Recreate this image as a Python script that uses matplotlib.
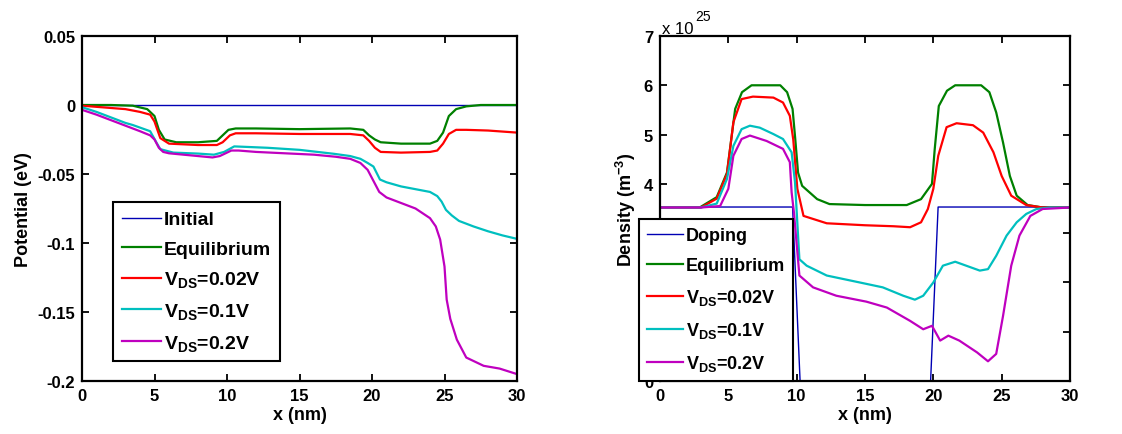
import numpy as np
import matplotlib
matplotlib.use('Agg')
import matplotlib.pyplot as plt

plt.rcParams['font.family'] = ['Liberation Sans', 'DejaVu Sans']
plt.rcParams['font.weight'] = 'bold'
plt.rcParams['mathtext.fontset'] = 'custom'
plt.rcParams['mathtext.rm'] = 'Liberation Sans:bold'
plt.rcParams['mathtext.bf'] = 'Liberation Sans:bold'
plt.rcParams['mathtext.it'] = 'Liberation Sans:bold'
plt.rcParams['axes.unicode_minus'] = False

# Couleurs style MATLAB
c_blue = '#0000b4'
c_green = '#008000'
c_red = '#ff0000'
c_cyan = '#00bfbf'
c_mag = '#bf00bf'

noms_pot = ['Initial', 'Equilibrium', r'V$_{\mathbf{DS}}$=0.02V', r'V$_{\mathbf{DS}}$=0.1V', r'V$_{\mathbf{DS}}$=0.2V']
noms_dens = ['Doping', 'Equilibrium', r'V$_{\mathbf{DS}}$=0.02V', r'V$_{\mathbf{DS}}$=0.1V', r'V$_{\mathbf{DS}}$=0.2V']

# ---- Potentiel (eV) ----
x_init = [0, 30]
v_init = [0, 0]

x_eq = [0, 2, 3.5, 4.5, 5.0, 5.3, 5.7, 6.5, 8, 9.3, 9.7, 10.1, 10.6, 12, 15, 18.5, 19.4, 19.8,
        20.2, 20.6, 22, 24, 24.5, 24.9, 25.3, 25.8, 26.5, 27.5, 30]
v_eq = [0, 0, -0.0005, -0.003, -0.008, -0.018, -0.025, -0.027, -0.027, -0.026, -0.022, -0.018,
        -0.017, -0.017, -0.0175, -0.017, -0.018, -0.022, -0.025, -0.027, -0.028, -0.028, -0.026,
        -0.02, -0.008, -0.003, -0.001, 0, 0]

x_02 = [0, 1.2, 3, 4.0, 4.7, 5.0, 5.4, 6, 8, 9.3, 9.7, 10.2, 10.6, 12, 15, 18.5, 19.4, 19.8,
        20.2, 20.6, 22, 24, 24.5, 24.9, 25.3, 25.8, 26.5, 28, 30]
v_02 = [-0.0005, -0.0015, -0.003, -0.005, -0.007, -0.012, -0.024, -0.028, -0.029, -0.029, -0.027,
        -0.022, -0.0205, -0.0205, -0.021, -0.021, -0.022, -0.026, -0.031, -0.034, -0.0345, -0.034,
        -0.033, -0.028, -0.021, -0.018, -0.018, -0.0185, -0.020]

x_1 = [0, 1, 2, 3, 3.5, 4.7, 5.15, 5.4, 6.3, 8, 9.1, 9.8, 10.5, 12.8, 15, 17.4, 18.5, 19.2, 19.7,
       20.1, 20.55, 21, 22, 23, 24, 24.5, 24.8, 25.1, 25.5, 26, 27, 28, 29, 30]
v_1 = [-0.0016, -0.005, -0.009, -0.013, -0.0145, -0.019, -0.0275, -0.032, -0.0345, -0.0352, -0.036,
       -0.034, -0.030, -0.031, -0.0325, -0.0354, -0.037, -0.039, -0.042, -0.0446, -0.054, -0.056,
       -0.059, -0.061, -0.063, -0.066, -0.070, -0.076, -0.080, -0.084, -0.088, -0.0915, -0.0945, -0.097]

x_2 = [0, 1, 2, 3, 4, 4.7, 5.0, 5.3, 5.6, 6, 7, 8, 9, 9.5, 9.9, 10.3, 10.8, 12, 14, 16, 17.5,
       18.5, 19.2, 19.7, 20.1, 20.5, 21, 22, 23, 24, 24.4, 24.7, 25.0, 25.15, 25.4, 25.85, 26.5,
       27.7, 28.8, 30]
v_2 = [-0.0035, -0.007, -0.011, -0.015, -0.019, -0.022, -0.025, -0.031, -0.034, -0.035, -0.036,
       -0.037, -0.038, -0.037, -0.035, -0.033, -0.033, -0.034, -0.035, -0.036, -0.0375, -0.039,
       -0.042, -0.047, -0.055, -0.063, -0.067, -0.071, -0.075, -0.082, -0.088, -0.0975, -0.117,
       -0.141, -0.155, -0.170, -0.183, -0.189, -0.191, -0.195]

# ---- Densite (x 1e25 m^-3) ----
x_dop = [0, 9.7, 10.25, 19.8, 20.35, 30]
n_dop = [3.53, 3.53, 0, 0, 3.53, 3.53]

x_neq = [0, 2.9, 4.15, 4.9, 5.5, 6.0, 6.7, 8.8, 9.3, 9.7, 9.9, 10.1, 10.4, 11.5, 12.4, 15, 18.05,
         19.1, 19.9, 20.1, 20.4, 21.0, 21.6, 23.5, 24.1, 24.6, 25.1, 25.6, 26.1, 26.9, 28, 30]
n_neq = [3.52, 3.52, 3.73, 4.23, 5.52, 5.86, 6.0, 6.0, 5.86, 5.52, 4.9, 4.23, 3.96, 3.69, 3.59,
         3.57, 3.57, 3.69, 4.0, 4.7, 5.58, 5.89, 6.0, 6.0, 5.86, 5.45, 4.84, 4.16, 3.76, 3.57, 3.52, 3.52]

x_n02 = [0, 3, 4.15, 4.9, 5.37, 5.97, 6.8, 8.3, 9.0, 9.5, 9.75, 10.05, 10.5, 12.2, 15, 17.07, 18.3,
         19.1, 19.6, 20.0, 20.36, 20.97, 21.7, 22.9, 23.65, 24.4, 25.0, 25.7, 26.8, 28, 30]
n_n02 = [3.52, 3.52, 3.7, 4.2, 5.25, 5.72, 5.77, 5.75, 5.65, 5.38, 4.9, 3.9, 3.35, 3.2, 3.16, 3.14,
         3.12, 3.22, 3.49, 3.9, 4.57, 5.15, 5.23, 5.19, 5.04, 4.64, 4.16, 3.76, 3.57, 3.52, 3.52]

x_n1 = [0, 3, 4.15, 4.9, 5.37, 5.97, 6.58, 7.3, 8.3, 9.0, 9.63, 9.88, 10.2, 10.73, 12.2, 14.6, 16.3,
        17.8, 18.65, 19.26, 20.0, 20.7, 21.6, 22.4, 23.4, 24.0, 24.6, 25.36, 26.1, 26.8, 27.55, 28.5, 30]
n_n1 = [3.52, 3.52, 3.6, 4.1, 4.77, 5.11, 5.18, 5.14, 5.01, 4.91, 4.64, 4.03, 2.47, 2.34, 2.14, 2.0,
        1.9, 1.73, 1.65, 1.73, 2.0, 2.34, 2.42, 2.34, 2.24, 2.27, 2.54, 2.95, 3.22, 3.39, 3.49, 3.52, 3.52]

x_n2 = [0, 3, 4.4, 5.0, 5.37, 5.97, 6.58, 7.8, 9.0, 9.5, 9.63, 9.8, 10.2, 11.2, 12.9, 15.1, 16.6,
        18.3, 19.26, 19.9, 20.5, 21.1, 21.9, 23.2, 24.0, 24.6, 25.1, 25.7, 26.3, 27.1, 28.0, 30]
n_n2 = [3.52, 3.52, 3.55, 3.9, 4.57, 4.91, 4.98, 4.87, 4.71, 4.44, 3.83, 3.42, 2.14, 1.9, 1.73, 1.61,
        1.49, 1.22, 1.05, 1.12, 0.82, 0.92, 0.82, 0.58, 0.40, 0.55, 1.32, 2.34, 2.95, 3.35, 3.49, 3.52]

fig = plt.figure(figsize=(11.22, 4.35), dpi=100)
W, H = 1122.0, 435.0
ax1 = fig.add_axes([82 / W, 1 - 382 / H, (517 - 82) / W, (382 - 37) / H])
ax2 = fig.add_axes([660 / W, 1 - 382 / H, (1070 - 660) / W, (382 - 37) / H])


def style_axes(ax):
    for s in ax.spines.values():
        s.set_linewidth(1.6)
    ax.tick_params(direction='in', length=5, width=1.3, top=True, right=True,
                   labelsize=12, pad=5)
    for lab in ax.get_xticklabels() + ax.get_yticklabels():
        lab.set_fontweight('bold')


def make_legend(ax, x0, y0, taille, espace):
    leg = ax.legend(loc='upper left', bbox_to_anchor=(x0 / W, 1 - y0 / H),
                    bbox_transform=fig.transFigure, borderaxespad=0, fancybox=False,
                    edgecolor='black', framealpha=1, fontsize=taille, handlelength=2.0,
                    handletextpad=0.15, borderpad=0.45, labelspacing=espace)
    leg.get_frame().set_linewidth(1.5)
    return leg


lw = 1.6
ax1.plot(x_init, v_init, color=c_blue, lw=1.0, label=noms_pot[0])
ax1.plot(x_eq, v_eq, color=c_green, lw=lw, label=noms_pot[1])
ax1.plot(x_02, v_02, color=c_red, lw=lw, label=noms_pot[2])
ax1.plot(x_1, v_1, color=c_cyan, lw=lw, label=noms_pot[3])
ax1.plot(x_2, v_2, color=c_mag, lw=lw, label=noms_pot[4])
ax1.set_xlim(0, 30)
ax1.set_ylim(-0.2, 0.05)
ax1.set_xticks(np.arange(0, 31, 5))
yt = [-0.2, -0.15, -0.1, -0.05, 0, 0.05]
ax1.set_yticks(yt)
ax1.set_yticklabels(['%g' % v for v in yt])
ax1.set_xlabel('x (nm)', fontsize=13, fontweight='bold', labelpad=2)
ax1.set_ylabel('Potential (eV)', fontsize=13, fontweight='bold', labelpad=4)
style_axes(ax1)
make_legend(ax1, 113, 203, 14, 0.6)

ax2.plot(x_dop, n_dop, color=c_blue, lw=1.0, label=noms_dens[0])
ax2.plot(x_neq, n_neq, color=c_green, lw=lw, label=noms_dens[1])
ax2.plot(x_n02, n_n02, color=c_red, lw=lw, label=noms_dens[2])
ax2.plot(x_n1, n_n1, color=c_cyan, lw=lw, label=noms_dens[3])
ax2.plot(x_n2, n_n2, color=c_mag, lw=lw, label=noms_dens[4])
ax2.set_xlim(0, 30)
ax2.set_ylim(0, 7)
ax2.set_xticks(np.arange(0, 31, 5))
ax2.set_yticks(np.arange(0, 8, 1))
ax2.set_xlabel('x (nm)', fontsize=13, fontweight='bold', labelpad=2)
ax2.set_ylabel(r'Density (m$^{-3}$)', fontsize=13, fontweight='bold', labelpad=4)
# facteur d'echelle style MATLAB
fig.text(662 / W, 1 - 34 / H, 'x 10', fontsize=12, fontweight='normal', ha='left', va='baseline')
fig.text(695 / W, 1 - 21 / H, '25', fontsize=10, fontweight='normal', ha='left', va='baseline')
style_axes(ax2)
make_legend(ax2, 639, 220, 13, 0.72)

fig.savefig('out.png', dpi=100)
